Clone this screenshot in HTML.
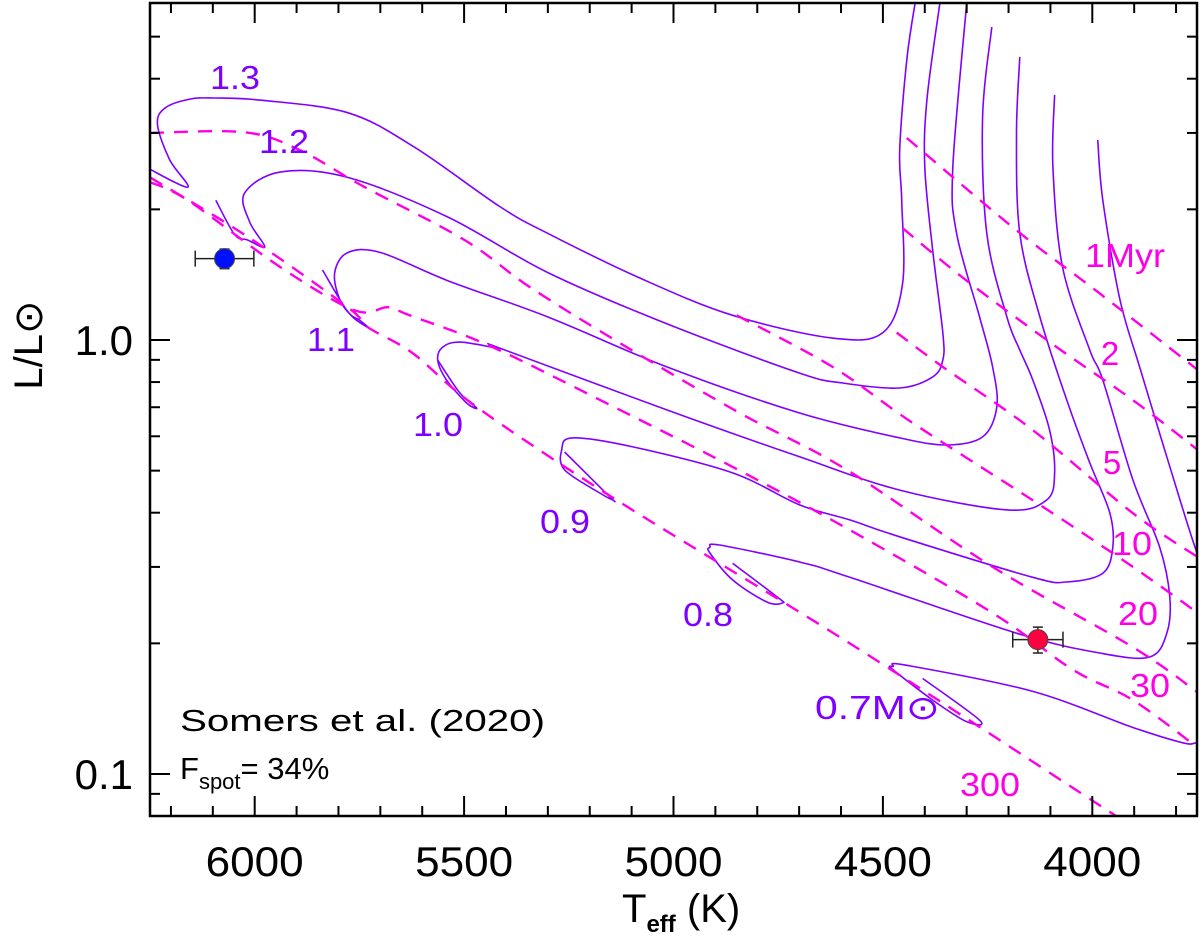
<!DOCTYPE html>
<html><head><meta charset="utf-8"><style>
html,body{margin:0;padding:0;background:#fff;}
svg{display:block;font-family:"Liberation Sans","DejaVu Sans",sans-serif;}
</style></head><body>
<svg id="chart" width="1200" height="939" viewBox="0 0 1200 939" xmlns="http://www.w3.org/2000/svg">
<defs><clipPath id="plotclip"><rect x="150" y="3" width="1047" height="813"/></clipPath></defs>
<g id="tracks" clip-path="url(#plotclip)"></g>
<g id="isos" clip-path="url(#plotclip)"></g>
<g id="stars"></g>
<g id="axes"></g>
<g font-family="Liberation Sans, DejaVu Sans, sans-serif" font-size="33" fill="#8000ff">
<text x="210" y="89" textLength="50" lengthAdjust="spacingAndGlyphs">1.3</text>
<text x="259" y="153" textLength="50" lengthAdjust="spacingAndGlyphs">1.2</text>
<text x="307" y="351" textLength="48" lengthAdjust="spacingAndGlyphs">1.1</text>
<text x="413" y="436" textLength="50" lengthAdjust="spacingAndGlyphs">1.0</text>
<text x="540" y="533" textLength="50" lengthAdjust="spacingAndGlyphs">0.9</text>
<text x="683" y="626" textLength="50" lengthAdjust="spacingAndGlyphs">0.8</text>
<text x="815" y="719" textLength="125" lengthAdjust="spacingAndGlyphs">0.7M⊙</text>
</g>
<g font-family="Liberation Sans, DejaVu Sans, sans-serif" font-size="33" fill="#ff00e6" text-anchor="middle">
<text x="1125" y="267" textLength="80" lengthAdjust="spacingAndGlyphs">1Myr</text>
<text x="1110" y="365">2</text>
<text x="1112" y="474">5</text>
<text x="1132" y="555" textLength="40" lengthAdjust="spacingAndGlyphs">10</text>
<text x="1138" y="625" textLength="40" lengthAdjust="spacingAndGlyphs">20</text>
<text x="1150" y="697" textLength="40" lengthAdjust="spacingAndGlyphs">30</text>
<text x="990" y="796" textLength="60" lengthAdjust="spacingAndGlyphs">300</text>
</g>
<g font-family="Liberation Sans, DejaVu Sans, sans-serif" fill="#000">
<text x="180" y="731" font-size="31" textLength="365" lengthAdjust="spacingAndGlyphs">Somers et al. (2020)</text>
<text x="180" y="779" font-size="31">F<tspan font-size="22" dy="10">spot</tspan><tspan dy="-10">= 34%</tspan></text>
</g>
<text x="622" y="922" font-family="Liberation Sans, DejaVu Sans, sans-serif" font-size="40">T<tspan font-size="24" font-weight="bold" dy="10">eff</tspan><tspan dy="-10"> (K)</tspan></text>
<text transform="translate(42,345) rotate(-90)" text-anchor="middle" font-family="Liberation Sans, DejaVu Sans, sans-serif" font-size="40">L/L⊙</text>
</svg>
<script>
const trackMasses=["1.3","1.2","1.1","1.0","0.9","0.8","0.7"];
const t13T=[4422,4443,4460,4455,4453,4500,4620,4859,5081,5300,5415,5618,5778,5988,6096,6155,6215,6232,6203,6160,6256];
const t13L=[6.07,4.42,2.74,2.10,1.35,1.04,1.01,1.14,1.39,1.76,2.03,2.78,3.34,3.57,3.61,3.59,3.42,3.13,2.60,2.25,2.49];
const t12T=[4364,4395,4400,4381,4357,4357,4381,4460,4596,4699,5016,5300,5539,5778,5938,6024,6012,5976,6017,6048,6093];
const t12L=[5.98,3.57,2.50,1.61,1.04,0.899,0.822,0.775,0.796,0.839,1.09,1.43,1.92,2.37,2.44,2.18,1.87,1.64,1.70,1.75,2.10];
const t11T=[4300,4333,4324,4269,4238,4228,4262,4347,4460,4699,5016,5300,5539,5699,5778,5809,5797,5766,5730,5749,5780,5838];
const t11L=[5.98,2.50,1.76,1.13,0.867,0.701,0.598,0.573,0.595,0.679,0.867,1.13,1.37,1.59,1.59,1.43,1.24,1.13,1.07,1.11,1.17,1.45];
const t10T=[4240,4262,4252,4204,4173,4142,4102,4090,4109,4204,4460,4699,5016,5415,5422,5510,5551,5563,5542,5494,5470,5510,5563];
const t10L=[5.26,3.27,1.76,1.13,0.948,0.809,0.620,0.494,0.428,0.406,0.451,0.538,0.690,0.958,0.958,0.989,0.963,0.899,0.809,0.716,0.697,0.755,0.899];
const t09T=[4173,4181,4173,4125,4061,4006,3958,3951,3975,4061,4142,4460,4579,4699,4859,5097,5241,5267,5260,5176,5145,5152,5260];
const t09L=[4.49,3.00,1.76,1.13,0.727,0.521,0.399,0.333,0.290,0.277,0.284,0.352,0.385,0.417,0.494,0.567,0.595,0.558,0.502,0.444,0.428,0.435,0.552];
const t08T=[4090,4094,4071,4006,3975,3903,3839,3815,3822,3863,3982,4180,4579,4699,4890,4913,4913,4859,4777,4739,4753,4859];
const t08L=[3.67,2.50,1.47,0.948,0.809,0.476,0.333,0.256,0.211,0.186,0.190,0.211,0.284,0.308,0.337,0.333,0.323,0.280,0.249,0.248,0.256,0.306];
const t07T=[3987,3975,3934,3887,3822,3750,3700,3700,3750,3784,3903,4142,4443,4476,4476,4381,4300,4269,4405];
const t07L=[2.89,2.10,1.24,0.867,0.538,0.323,0.25,0.12,0.118,0.118,0.128,0.155,0.178,0.177,0.174,0.148,0.132,0.133,0.166];

const isoAges=["1Myr","2","5","10","20","30","300"];
const i1T=[4443,4181,3982,3748], i1L=[2.92,1.79,1.28,0.853];
const i2T=[4453,4300,4085,3903,3748], i2L=[1.81,1.37,0.963,0.727,0.558];
const i3T=[4467,4357,4142,3903,3748], i3L=[1.04,0.867,0.620,0.399,0.316];
const i4T=[4849,4620,4429,4125,3903,3748], i4L=[1.14,0.867,0.644,0.417,0.300,0.235];
const i5T=[6250,6024,5893,5737,5499,5341,5112,4842,4586,4238,3903,3748];
const i5L=[3.00,3.01,2.74,2.25,1.70,1.32,0.963,0.679,0.502,0.300,0.196,0.154];
const i6T=[6250,6160,5938,5761,5682,5630,5432,5128,4859,4579,4238,4047,3903,3748];
const i6L=[2.31,2.10,1.47,1.17,1.19,1.14,0.963,0.690,0.510,0.365,0.235,0.174,0.148,0.115];
const i7T=[6250,6017,5778,5730,5623,5470,5136,4579,4013,3944];
const i7L=[2.37,1.73,1.19,1.07,0.933,0.701,0.428,0.200,0.0885,0.080];

const starT=[6072,4130], starL=[1.54,0.204];
const starTerr=[70,60], starLlo=[1.46,0.190], starLhi=[1.62,0.218];
const xMajor=[6000,5500,5000,4500,4000];
const yMajor=[0.1,1.0], yMajorLab=["0.1","1.0"];
const yMinor=[0.08,0.09,0.2,0.3,0.4,0.5,0.6,0.7,0.8,0.9,2,3,4,5,6];

const NS="http://www.w3.org/2000/svg";
const X0=150,X1=1197,Y0=3,Y1=816,TMAX=6250,TMIN=3750;
function xs(T){return X0+(TMAX-T)/(TMAX-TMIN)*(X1-X0);}
function ys(L){return 340-434*Math.log10(L);}
function mk(tag,attrs,parent){const e=document.createElementNS(NS,tag);for(const k in attrs)e.setAttribute(k,attrs[k]);parent.appendChild(e);return e;}
function smooth(Ts,Ls){
  const P=Ts.map((t,i)=>[xs(t),ys(Ls[i])]);
  let d="M"+P[0][0].toFixed(1)+","+P[0][1].toFixed(1);
  for(let i=0;i<P.length-1;i++){
    const p0=P[Math.max(0,i-1)],p1=P[i],p2=P[i+1],p3=P[Math.min(P.length-1,i+2)];
    const c1=[p1[0]+(p2[0]-p0[0])/6,p1[1]+(p2[1]-p0[1])/6];
    const c2=[p2[0]-(p3[0]-p1[0])/6,p2[1]-(p3[1]-p1[1])/6];
    d+=" C"+c1[0].toFixed(1)+","+c1[1].toFixed(1)+" "+c2[0].toFixed(1)+","+c2[1].toFixed(1)+" "+p2[0].toFixed(1)+","+p2[1].toFixed(1);
  }
  return d;
}

const gT=document.getElementById('tracks');
const trackData=[[t13T,t13L],[t12T,t12L],[t11T,t11L],[t10T,t10L],[t09T,t09L],[t08T,t08L],[t07T,t07L]];
trackData.forEach((d,i)=>{
  const p=mk('path',{d:smooth(d[0],d[1]),fill:'none',stroke:'#8000ff','stroke-width':1.6,'stroke-linejoin':'round'},gT);
  
  
});
const gI=document.getElementById('isos');
const isoData=[[i1T,i1L],[i2T,i2L],[i3T,i3L],[i4T,i4L],[i5T,i5L],[i6T,i6L],[i7T,i7L]];
isoData.forEach((d,i)=>{
  const p=mk('path',{d:smooth(d[0],d[1]),fill:'none',stroke:'#ff00e6','stroke-width':2.4,'stroke-dasharray':'14 10'},gI);
  
  
});
const gS=document.getElementById('stars');
const cols=['#0010ff','#ff0040'];
const names=['star-primary','star-secondary'];
starT.forEach((t,i)=>{
  const g=mk('g',{},gS);
  
  
  const cx=xs(t),cy=ys(starL[i]),x1=xs(t+starTerr[i]),x2=xs(t-starTerr[i]),y1=ys(starLhi[i]),y2=ys(starLlo[i]);
  mk('line',{x1:x1,y1:cy,x2:x2,y2:cy,stroke:'#222','stroke-width':1.5},g);
  mk('line',{x1:x1,y1:cy-8,x2:x1,y2:cy+8,stroke:'#222','stroke-width':1.5},g);
  mk('line',{x1:x2,y1:cy-8,x2:x2,y2:cy+8,stroke:'#222','stroke-width':1.5},g);
  mk('line',{x1:cx,y1:y1,x2:cx,y2:y2,stroke:'#222','stroke-width':1.5},g);
  mk('line',{x1:cx-5,y1:y1,x2:cx+5,y2:y1,stroke:'#222','stroke-width':1.5},g);
  mk('line',{x1:cx-5,y1:y2,x2:cx+5,y2:y2,stroke:'#222','stroke-width':1.5},g);
  mk('circle',{cx:cx,cy:cy,r:10,fill:cols[i],stroke:'#444','stroke-width':1},g);
});
const gA=document.getElementById('axes');
mk('rect',{x:X0,y:Y0,width:X1-X0,height:Y1-Y0,fill:'none',stroke:'#000','stroke-width':2.5},gA);
for(let T=3800;T<=6200;T+=100){
  const major=xMajor.includes(T);const len=major?20:10;const x=xs(T);
  mk('line',{x1:x,y1:Y1,x2:x,y2:Y1-len,stroke:'#000','stroke-width':2},gA);
  mk('line',{x1:x,y1:Y0,x2:x,y2:Y0+len,stroke:'#000','stroke-width':2},gA);
}
xMajor.forEach(T=>{
  const t=mk('text',{x:xs(T),y:876,'text-anchor':'middle','font-size':42,textLength:98,lengthAdjust:'spacingAndGlyphs',fill:'#000'},gA);
  t.textContent=T;
  
  
});
yMajor.forEach((L,i)=>{
  const y=ys(L);
  mk('line',{x1:X0,y1:y,x2:X0+20,y2:y,stroke:'#000','stroke-width':2},gA);
  mk('line',{x1:X1,y1:y,x2:X1-20,y2:y,stroke:'#000','stroke-width':2},gA);
  const t=mk('text',{x:133,y:y+15,'text-anchor':'end','font-size':42,fill:'#000'},gA);
  t.textContent=yMajorLab[i];
  
  
});
yMinor.forEach(L=>{
  const y=ys(L); if(y<Y0+2||y>Y1-2) return;
  mk('line',{x1:X0,y1:y,x2:X0+10,y2:y,stroke:'#000','stroke-width':2},gA);
  mk('line',{x1:X1,y1:y,x2:X1-10,y2:y,stroke:'#000','stroke-width':2},gA);
});
</script>
</body></html>
